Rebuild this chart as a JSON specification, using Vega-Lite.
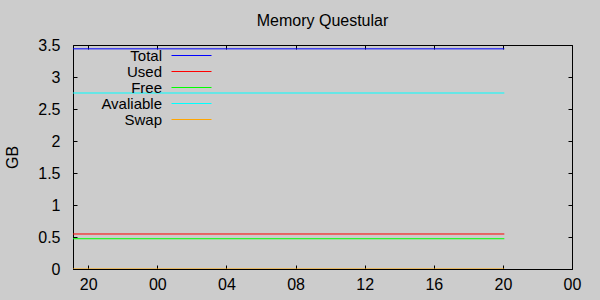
{
  "$schema": "https://vega.github.io/schema/vega-lite/v6.json",
  "autosize": "none",
  "width": 499,
  "height": 224,
  "padding": {"left": 73, "top": 45, "right": 28, "bottom": 31},
  "background": "#cccccc",
  "title": {"text": "Memory Questular", "fontSize": 16, "fontWeight": "normal", "font": "Liberation Sans", "color": "#000000", "offset": 8, "anchor": "middle"},
  "config": {
    "view": {"stroke": "#000000", "strokeWidth": 1},
    "font": "Liberation Sans",
    "axis": {"domainColor": "#000000", "tickColor": "#000000", "labelColor": "#000000", "titleColor": "#000000", "labelFont": "Liberation Sans", "titleFont": "Liberation Sans", "labelFontSize": 16, "titleFontSize": 16, "titleFontWeight": "normal", "grid": false, "tickSize": -4, "zindex": 1}
  },
  "data": {"values": [
    {"t": "2024-01-01T19:07:00Z", "series": "Total", "gb": 3.44},
    {"t": "2024-01-02T20:05:00Z", "series": "Total", "gb": 3.44},
    {"t": "2024-01-01T19:07:00Z", "series": "Used", "gb": 0.547},
    {"t": "2024-01-02T20:05:00Z", "series": "Used", "gb": 0.547},
    {"t": "2024-01-01T19:07:00Z", "series": "Free", "gb": 0.473},
    {"t": "2024-01-02T20:05:00Z", "series": "Free", "gb": 0.473},
    {"t": "2024-01-01T19:07:00Z", "series": "Avaliable", "gb": 2.75},
    {"t": "2024-01-02T20:05:00Z", "series": "Avaliable", "gb": 2.75},
    {"t": "2024-01-01T19:07:00Z", "series": "Swap", "gb": 0},
    {"t": "2024-01-02T20:05:00Z", "series": "Swap", "gb": 0}
  ]},
  "layer": [
    {
      "mark": {"type": "line", "strokeWidth": 1, "clip": true},
      "encoding": {
        "x": {"field": "t", "type": "temporal",
          "scale": {"type": "utc", "domain": [{"year": 2024, "month": 1, "date": 1, "hours": 19, "minutes": 7, "utc": true}, {"year": 2024, "month": 1, "date": 3, "hours": 0, "utc": true}]},
          "axis": {"orient": "bottom", "title": null, "labelExpr": "utcFormat(datum.value, '%H')", "labelPadding": 11, "labelFlush": false, "labelOverlap": false,
            "values": [
              {"year": 2024, "month": 1, "date": 1, "hours": 20, "utc": true},
              {"year": 2024, "month": 1, "date": 2, "hours": 0, "utc": true},
              {"year": 2024, "month": 1, "date": 2, "hours": 4, "utc": true},
              {"year": 2024, "month": 1, "date": 2, "hours": 8, "utc": true},
              {"year": 2024, "month": 1, "date": 2, "hours": 12, "utc": true},
              {"year": 2024, "month": 1, "date": 2, "hours": 16, "utc": true},
              {"year": 2024, "month": 1, "date": 2, "hours": 20, "utc": true},
              {"year": 2024, "month": 1, "date": 3, "hours": 0, "utc": true}
            ]}},
        "y": {"field": "gb", "type": "quantitative",
          "scale": {"domain": [0, 3.5], "nice": false, "zero": false},
          "axis": {"orient": "left", "title": "GB", "format": "~g", "values": [0, 0.5, 1, 1.5, 2, 2.5, 3, 3.5], "labelPadding": 17, "labelFlush": false, "titleX": -61, "titleY": 112, "titleAngle": -90, "titleAlign": "center", "titleBaseline": "middle"}},
        "color": {"field": "series", "type": "nominal",
          "scale": {"domain": ["Total", "Used", "Free", "Avaliable", "Swap"], "range": ["#0000ff", "#ff0000", "#00ff00", "#00ffff", "#ffa500"]},
          "legend": {"orient": "none", "legendX": 111, "legendY": 3, "title": null, "symbolType": "M-4,0H4", "symbolSize": 100, "symbolStrokeWidth": 1.2, "labelAlign": "right", "labelOffset": -37, "labelFontSize": 15, "labelFont": "Liberation Sans", "labelColor": "#000000", "rowPadding": 0, "padding": 0, "labelLimit": 200}}
      }
    },
    {
      "mark": {"type": "line", "strokeOpacity": 0},
      "encoding": {
        "x": {"field": "t", "type": "temporal",
          "axis": {"orient": "top", "title": null, "labels": false, "domain": false,
            "values": [
              {"year": 2024, "month": 1, "date": 1, "hours": 20, "utc": true},
              {"year": 2024, "month": 1, "date": 2, "hours": 0, "utc": true},
              {"year": 2024, "month": 1, "date": 2, "hours": 4, "utc": true},
              {"year": 2024, "month": 1, "date": 2, "hours": 8, "utc": true},
              {"year": 2024, "month": 1, "date": 2, "hours": 12, "utc": true},
              {"year": 2024, "month": 1, "date": 2, "hours": 16, "utc": true},
              {"year": 2024, "month": 1, "date": 2, "hours": 20, "utc": true},
              {"year": 2024, "month": 1, "date": 3, "hours": 0, "utc": true}
            ]}},
        "y": {"field": "gb", "type": "quantitative",
          "axis": {"orient": "right", "title": null, "labels": false, "domain": false, "values": [0, 0.5, 1, 1.5, 2, 2.5, 3, 3.5]}},
        "detail": {"field": "series"}
      }
    }
  ],
  "resolve": {"axis": {"x": "independent", "y": "independent"}}
}
